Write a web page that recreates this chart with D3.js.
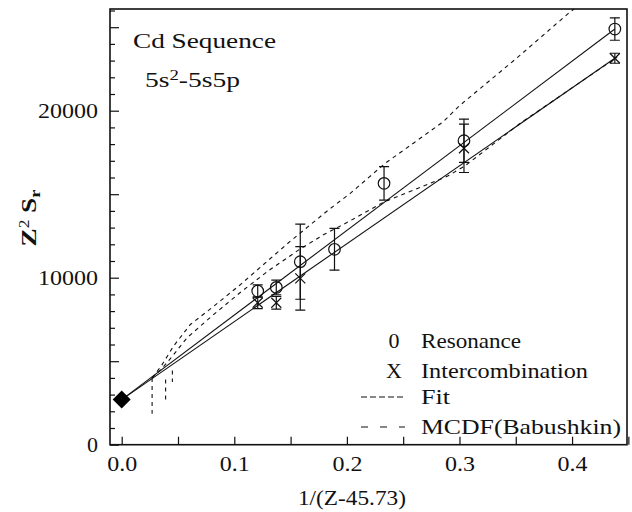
<!DOCTYPE html>
<html lang="en">
<head>
<meta charset="UTF-8">
<title>Cd Sequence 5s2-5s5p</title>
<script src="https://cdn.jsdelivr.net/npm/d3@7"></script>
<style>
  body { margin: 0; background: #fff; }
  svg text { font-family: "Liberation Serif", "Times New Roman", serif; fill: #111; }
  .frame { fill: none; stroke: #111; stroke-width: 1.6; }
  .axis path { display: none; }
  .axis line { stroke: #111; stroke-width: 1.2; }
  .fit { fill: none; stroke: #111; stroke-width: 1.1; }
  .mcdf { fill: none; stroke: #111; stroke-width: 1.1; stroke-dasharray: 4,4; }
  .mark { fill: none; stroke: #111; stroke-width: 1.2; }
</style>
</head>
<body>
<svg id="chart" width="632" height="512"></svg>
<script>
// resonance points (circles)
const resX   = [0.1208, 0.1373, 0.1586, 0.189, 0.233, 0.304, 0.438];
const resY   = [9200, 9420, 10960, 11700, 15650, 18200, 24890];
const resErr = [370, 440, 2250, 1250, 1000, 1300, 670];

// intercombination points (X)
const intX   = [0.1208, 0.1373, 0.1586, 0.304, 0.438];
const intY   = [8500, 8500, 9960, 17750, 23140];
const intErr = [350, 380, 1900, 1450, 300];

// extrapolated point at 1/(Z-45.73) = 0
const anchorX = 0, anchorY = 2700;

// straight-line fits
const fitX    = [0, 0.438];
const fitResY = [2700, 24890];
const fitIntY = [2700, 23140];

// MCDF (Babushkin) curves
const mcdfUpX = [0.027, 0.035, 0.046, 0.061, 0.08, 0.105, 0.15, 0.1835, 0.203, 0.234, 0.26, 0.2856, 0.3, 0.35, 0.398, 0.412];
const mcdfUpY = [4000, 4700, 5900, 7200, 8200, 9560, 12200, 14050, 15050, 16850, 18100, 19340, 20300, 23100, 25900, 26600];
const mcdfLoX = [0.027, 0.035, 0.045, 0.058, 0.08, 0.105, 0.13, 0.158, 0.18, 0.2, 0.232, 0.265, 0.29, 0.305, 0.33, 0.354, 0.392, 0.43, 0.44];
const mcdfLoY = [4000, 4500, 5300, 6400, 7700, 9100, 10400, 11700, 12600, 13300, 14500, 15400, 16100, 16700, 18000, 19250, 21000, 22750, 23200];
// vertical dips of the MCDF curves near the origin
const dipX   = [0.027, 0.039, 0.045];
const dipTop = [4000, 3900, 4450];
const dipBot = [1850, 2680, 3750];

const xTicks = [0, 0.1, 0.2, 0.3, 0.4];
const xMinor = d3.range(0, 0.4501, 0.05);
const yTicks = [0, 10000, 20000];
const yMinor = d3.range(0, 26001, 1000);

const margin = {top: 9, right: 5, bottom: 67.3, left: 110},
      width = 632 - margin.left - margin.right,
      height = 512 - margin.top - margin.bottom;

const x = d3.scaleLinear().domain([-0.0104, 0.4488]).range([0, width]);
const y = d3.scaleLinear().domain([0, 26090]).range([height, 0]);

const svg = d3.select("#chart")
  .append("g")
  .attr("transform", `translate(${margin.left},${margin.top})`);

svg.append("defs").append("clipPath").attr("id", "clip")
  .append("rect").attr("width", width).attr("height", height);

// axes (ticks point inward)
const xAx = svg.append("g").attr("class", "axis")
  .attr("transform", `translate(0,${height})`)
  .call(d3.axisBottom(x).tickValues(xMinor).tickSize(-8).tickPadding(11)
    .tickFormat(d => xTicks.some(t => Math.abs(t - d) < 1e-9) ? d3.format(".1f")(d) : ""));
xAx.attr("font-family", null);
xAx.selectAll("text").style("font-size", "22px")
  .attr("textLength", (d, i, n) => n[i].textContent ? 30 : null)
  .attr("lengthAdjust", "spacingAndGlyphs");

const yAx = svg.append("g").attr("class", "axis")
  .call(d3.axisLeft(y).tickValues(yMinor).tickSize(-5).tickPadding(12)
    .tickFormat(d => yTicks.includes(d) ? d : ""));
yAx.attr("font-family", null);
yAx.selectAll("text").style("font-size", "22px")
  .attr("textLength", d => d ? 60 : null)
  .attr("lengthAdjust", "spacingAndGlyphs");
yAx.selectAll(".tick line").attr("x2", d => d % 5000 === 0 ? 9 : 5);

svg.append("rect").attr("class", "frame").attr("width", width).attr("height", height);

// axis titles
svg.append("text")
  .attr("x", x(0.2045)).attr("y", height + 60)
  .attr("text-anchor", "middle")
  .style("font-size", "22px")
  .attr("textLength", 108).attr("lengthAdjust", "spacingAndGlyphs")
  .text("1/(Z-45.73)");

const yt = svg.append("text")
  .attr("transform", `translate(${36 - margin.left},${218 - margin.top}) rotate(-90)`)
  .attr("text-anchor", "middle")
  .style("font-size", "22px").style("font-weight", "bold")
  .attr("textLength", 57).attr("lengthAdjust", "spacingAndGlyphs");
yt.append("tspan").text("Z");
yt.append("tspan").attr("dy", -7).style("font-size", "14px").style("font-weight", "normal").text("2");
yt.append("tspan").attr("dy", 7).text(" S");
yt.append("tspan").attr("dy", 4).style("font-size", "15px").text("r");

// plot contents
const plot = svg.append("g").attr("clip-path", "url(#clip)");
const line = d3.line().x(d => x(d[0])).y(d => y(d[1]));

plot.append("path").attr("class", "fit").attr("d", line(d3.zip(fitX, fitResY)));
plot.append("path").attr("class", "fit").attr("d", line(d3.zip(fitX, fitIntY)));
plot.append("path").attr("class", "mcdf").attr("d", line(d3.zip(mcdfUpX, mcdfUpY)));
plot.append("path").attr("class", "mcdf").attr("d", line(d3.zip(mcdfLoX, mcdfLoY)));

plot.selectAll(".dip").data(d3.range(dipX.length)).join("line")
  .attr("class", "mcdf dip")
  .attr("x1", i => x(dipX[i])).attr("x2", i => x(dipX[i]))
  .attr("y1", i => y(dipTop[i])).attr("y2", i => y(dipBot[i]));

// error bars
function errorBars(cls, xs, ys, es) {
  const g = plot.selectAll("." + cls).data(d3.range(xs.length)).join("g")
    .attr("class", cls)
    .attr("transform", i => `translate(${x(xs[i])},0)`);
  g.append("line").attr("class", "mark")
    .attr("y1", i => y(ys[i] - es[i])).attr("y2", i => y(ys[i] + es[i]));
  [-1, 1].forEach(s => {
    g.append("line").attr("class", "mark")
      .attr("x1", -5).attr("x2", 5)
      .attr("y1", i => y(ys[i] + s * es[i])).attr("y2", i => y(ys[i] + s * es[i]));
  });
}
errorBars("ebRes", resX, resY, resErr);
errorBars("ebInt", intX, intY, intErr);

plot.selectAll(".res").data(d3.range(resX.length)).join("circle")
  .attr("class", "mark res")
  .attr("cx", i => x(resX[i])).attr("cy", i => y(resY[i])).attr("r", 5.8);

plot.selectAll(".int").data(d3.range(intX.length)).join("path")
  .attr("class", "mark int")
  .attr("transform", i => `translate(${x(intX[i])},${y(intY[i])})`)
  .attr("d", "M-5,-5L5,5M-5,5L5,-5");

plot.append("path")
  .attr("transform", `translate(${x(anchorX)},${y(anchorY)})`)
  .attr("d", "M0,-9L9,0L0,9L-9,0Z")
  .attr("fill", "#000");

// annotation
const note = svg.append("g").attr("transform", `translate(${-margin.left},${-margin.top})`);
note.append("text").attr("x", 133).attr("y", 48)
  .style("font-size", "22px")
  .attr("textLength", 143).attr("lengthAdjust", "spacingAndGlyphs")
  .text("Cd Sequence");
const sub = note.append("text").attr("x", 145).attr("y", 87)
  .style("font-size", "22px")
  .attr("textLength", 95).attr("lengthAdjust", "spacingAndGlyphs");
sub.append("tspan").text("5s");
sub.append("tspan").attr("dy", -7).style("font-size", "15px").text("2");
sub.append("tspan").attr("dy", 7).text("-5s5p");

// legend
const legend = [
  {sym: "0", label: "Resonance", y: 348, w: 100},
  {sym: "X", label: "Intercombination", y: 378, w: 167},
  {sym: "fit", label: "Fit", y: 404, w: 29},
  {sym: "mcdf", label: "MCDF(Babushkin)", y: 434, w: 200}
];
legend.forEach(d => {
  if (d.sym === "0" || d.sym === "X") {
    note.append("text").attr("x", 394).attr("y", d.y)
      .attr("text-anchor", "middle").style("font-size", "22px").text(d.sym);
  } else {
    note.append("line")
      .attr("x1", 361).attr("x2", 405).attr("y1", d.y - 7).attr("y2", d.y - 7)
      .attr("stroke", "#111").attr("stroke-width", 1.1)
      .attr("stroke-dasharray", d.sym === "fit" ? "6,3" : "7,12");
  }
  note.append("text").attr("x", 421).attr("y", d.y)
    .style("font-size", "22px")
    .attr("textLength", d.w).attr("lengthAdjust", "spacingAndGlyphs")
    .text(d.label);
});
</script>
</body>
</html>
